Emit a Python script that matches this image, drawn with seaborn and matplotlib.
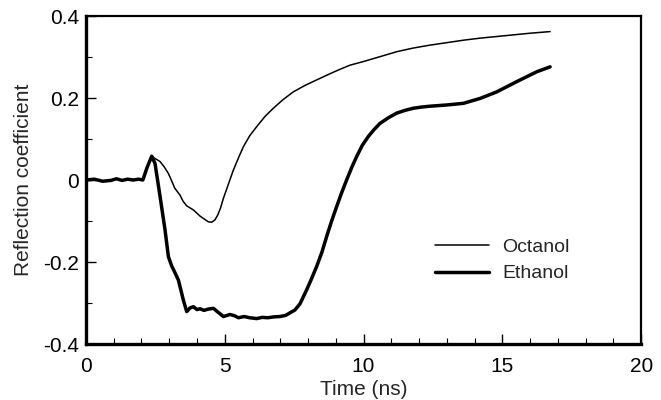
import numpy as np
import pandas as pd
import matplotlib
matplotlib.use("Agg")
import matplotlib.pyplot as plt
import seaborn as sns
from matplotlib.ticker import MultipleLocator

# Time-domain reflection coefficient for two alcohols
octanol_t = [0.0, 0.3, 0.6, 0.9, 1.1, 1.3, 1.5, 1.7, 1.9, 2.05, 2.2, 2.37,
             2.5, 2.67, 2.82, 2.97, 3.1, 3.2, 3.39, 3.5, 3.63, 3.87, 4.11, 4.3,
             4.41, 4.53, 4.65, 4.75, 4.85, 4.95, 5.07, 5.2, 5.31, 5.5, 5.67,
             5.9, 6.15, 6.45, 6.75, 7.1, 7.47, 7.9, 8.31, 8.75, 9.15, 9.51,
             10.0, 10.6, 11.2, 11.8, 12.4, 13.0, 13.6, 14.2, 14.8, 15.4, 16.0,
             16.72]
octanol_r = [0.0, 0.002, -0.003, -0.001, 0.003, -0.001, 0.002, 0.0, 0.002, 0.0,
             0.03, 0.058, 0.052, 0.045, 0.032, 0.016, -0.004, -0.02, -0.037,
             -0.052, -0.063, -0.073, -0.088, -0.097, -0.102, -0.103, -0.097,
             -0.085, -0.068, -0.045, -0.022, 0.003, 0.024, 0.055, 0.081, 0.108,
             0.13, 0.155, 0.175, 0.196, 0.215, 0.231, 0.244, 0.258, 0.27, 0.28,
             0.289, 0.301, 0.313, 0.322, 0.329, 0.335, 0.341, 0.346, 0.35,
             0.354, 0.358, 0.362]

ethanol_t = [0.0, 0.3, 0.6, 0.9, 1.1, 1.3, 1.5, 1.7, 1.9, 2.05, 2.2, 2.37,
             2.49, 2.67, 2.85, 2.97, 3.09, 3.2, 3.33, 3.51, 3.63, 3.75, 3.87,
             4.0, 4.11, 4.25, 4.4, 4.59, 4.75, 4.95, 5.19, 5.35, 5.49, 5.7,
             5.9, 6.15, 6.35, 6.55, 6.75, 6.99, 7.2, 7.35, 7.53, 7.71, 7.95,
             8.1, 8.31, 8.5, 8.67, 8.85, 9.03, 9.2, 9.39, 9.57, 9.75, 9.95,
             10.17, 10.38, 10.59, 10.9, 11.19, 11.5, 11.79, 12.1, 12.4, 13.0,
             13.6, 14.2, 14.8, 15.52, 16.24, 16.72]
ethanol_r = [0.0, 0.002, -0.003, -0.001, 0.003, -0.001, 0.002, 0.0, 0.002, 0.0,
             0.03, 0.058, 0.04, -0.04, -0.122, -0.187, -0.21, -0.225, -0.244,
             -0.293, -0.321, -0.312, -0.309, -0.316, -0.314, -0.318, -0.315,
             -0.313, -0.322, -0.333, -0.328, -0.331, -0.336, -0.333, -0.336,
             -0.338, -0.335, -0.336, -0.334, -0.333, -0.33, -0.324, -0.317,
             -0.302, -0.268, -0.245, -0.211, -0.176, -0.138, -0.1, -0.065,
             -0.033, 0.0, 0.03, 0.057, 0.084, 0.106, 0.123, 0.138, 0.152, 0.163,
             0.17, 0.175, 0.178, 0.18, 0.183, 0.187, 0.199, 0.215, 0.24, 0.264,
             0.276]

x_ticks = [0, 5, 10, 15, 20]
y_ticks = [-0.4, -0.2, 0.0, 0.2, 0.4]
y_tick_labels = ["-0.4", "-0.2", "0", "0.2", "0.4"]

sns.set_theme(style="white")
plt.rcParams["font.family"] = ["Liberation Sans", "DejaVu Sans"]

oct_df = pd.DataFrame({"t": octanol_t, "r": octanol_r})
eth_df = pd.DataFrame({"t": ethanol_t, "r": ethanol_r})

fig = plt.figure(figsize=(6.61, 4.0), dpi=100)
ax = fig.add_axes([0.130, 0.14, 0.840, 0.82])

sns.lineplot(data=oct_df, x="t", y="r", ax=ax, color="black", lw=1.1,
             sort=False, label="Octanol", solid_joinstyle="round")
sns.lineplot(data=eth_df, x="t", y="r", ax=ax, color="black", lw=2.5,
             sort=False, label="Ethanol", solid_joinstyle="round")

ax.set_xlim(0, 20)
ax.set_ylim(-0.4, 0.4)
ax.set_xticks(x_ticks)
ax.set_xticklabels([str(v) for v in x_ticks])
ax.set_yticks(y_ticks)
ax.set_yticklabels(y_tick_labels)
ax.xaxis.set_minor_locator(MultipleLocator(1))
ax.yaxis.set_minor_locator(MultipleLocator(0.1))
ax.tick_params(which="both", direction="in", top=False, right=False,
               bottom=True, left=True, colors="black", labelsize=15)
ax.tick_params(axis="x", which="major", length=7, width=1.0, pad=9)
ax.tick_params(axis="y", which="major", length=7, width=1.0, pad=5)
ax.tick_params(which="minor", length=4, width=0.8)

for side in ["left", "bottom"]:
    ax.spines[side].set_linewidth(2.4)
    ax.spines[side].set_color("black")
for side in ["top", "right"]:
    ax.spines[side].set_linewidth(1.6)
    ax.spines[side].set_color("black")

ax.set_xlabel("Time (ns)", fontsize=15, labelpad=3)
ax.set_ylabel("Reflection coefficient", fontsize=15, labelpad=7)

leg = ax.legend(loc="upper left", bbox_to_anchor=(0.598, 0.375), frameon=False,
                fontsize=14, handlelength=2.75, handletextpad=0.7,
                labelspacing=0.45)

fig.savefig("out.png", dpi=100, facecolor="white")
